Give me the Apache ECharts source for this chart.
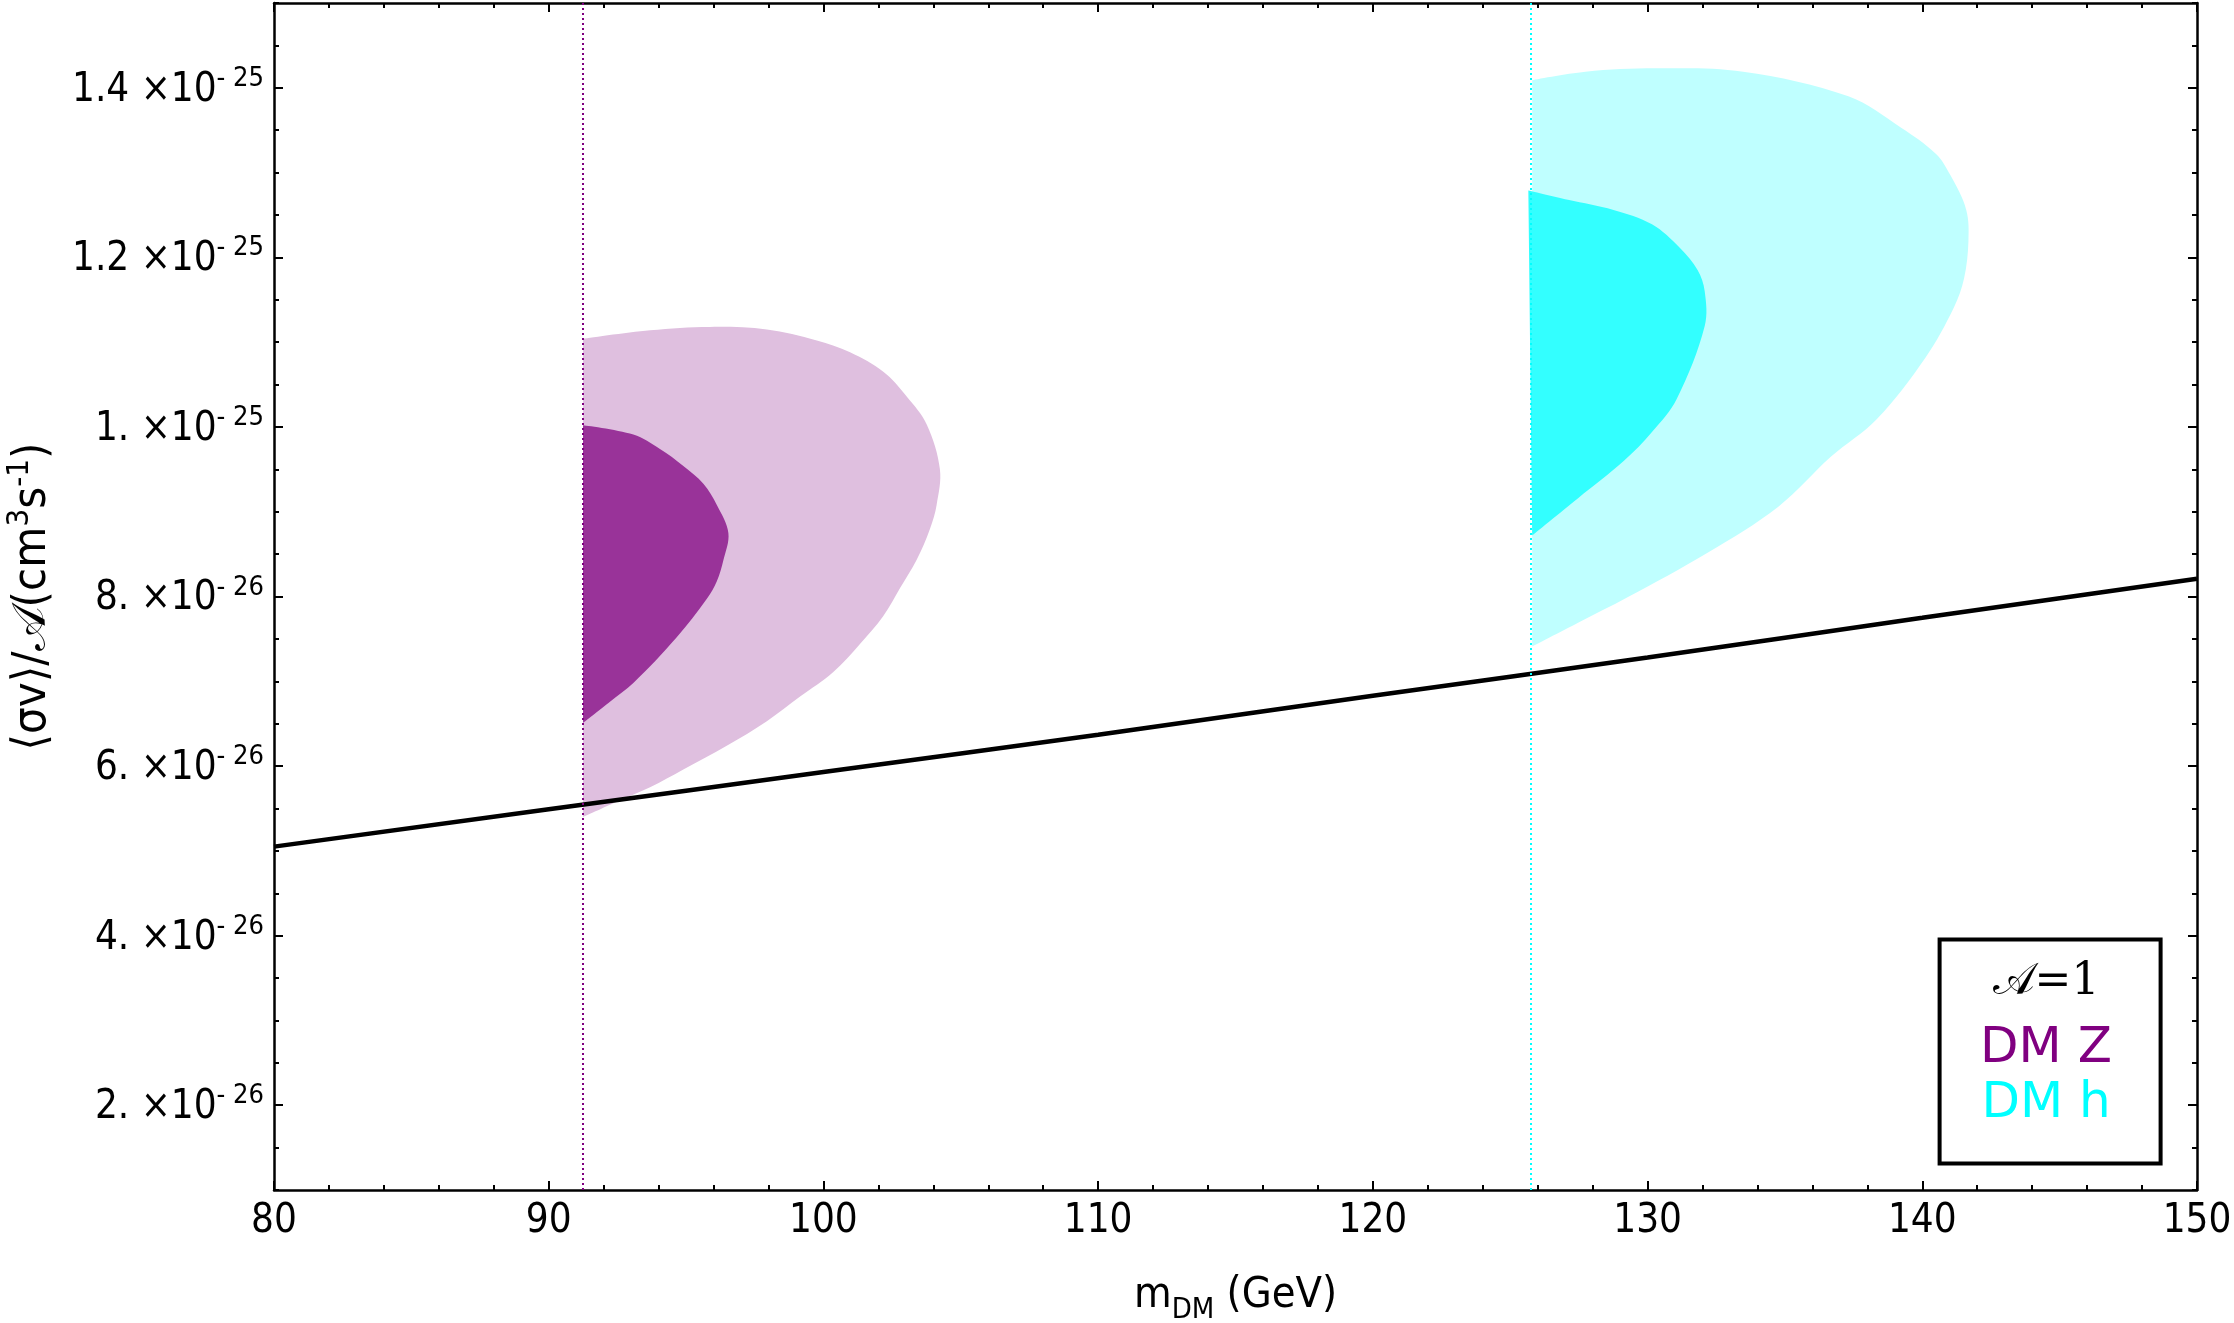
<!DOCTYPE html>
<html lang="en">
<head>
    <meta charset="UTF-8">
    <title>DM annihilation fit</title>
    <style>
        html, body { margin: 0; padding: 0; background: #fff; }
        #box { width: 2234px; height: 1323px; }
    </style>
</head>
<body>
    <div id="box"></div>
    <script src="https://cdn.jsdelivr.net/npm/echarts@6/dist/echarts.min.js"></script>
    <script>
        // y values are in units of 1e-26 cm^3 s^-1
        var yMajorTicks = [2, 4, 6, 8, 10, 12, 14];
        var yTickMantissa = ['2.', '4.', '6.', '8.', '1.', '1.2', '1.4'];
        var yTickExponent = ['26', '26', '26', '26', '25', '25', '25'];

        // vertical mass lines (GeV)
        var massZ = 91.25;
        var massH = 125.75;

        // thermal relic line
        var relicX = [80, 90, 100, 110, 120, 130, 140, 150];
        var relicY = [5.05, 5.49, 5.93, 6.37, 6.83, 7.28, 7.75, 8.21];

        // DM Z contours [mDM, sigmav]
        var dmZOuter = [[91.25, 11.04], [93.69, 11.14], [95.87, 11.18], [97.94, 11.15], [99.76, 11.02],
            [100.97, 10.88], [102.18, 10.65], [103.03, 10.36], [103.76, 10.03], [104.24, 9.50],
            [104.12, 9.08], [103.88, 8.80], [103.39, 8.43], [102.79, 8.10], [102.18, 7.77],
            [101.33, 7.44], [100.36, 7.11], [99.15, 6.82], [97.94, 6.53], [96.48, 6.24],
            [94.9, 5.96], [93.69, 5.75], [92.48, 5.58], [91.25, 5.40]];
        var dmZInner = [[91.25, 10.02], [93.08, 9.91], [94.05, 9.74], [94.9, 9.54], [95.63, 9.33],
            [96.12, 9.08], [96.54, 8.75], [96.36, 8.43], [96.12, 8.18], [95.75, 7.97],
            [94.66, 7.52], [93.08, 6.98], [92.23, 6.76], [91.25, 6.51]];

        // DM h contours
        var dmHOuter = [[125.8, 14.09], [127.74, 14.19], [130.29, 14.23], [133.48, 14.19], [137.31, 13.90],
            [139.23, 13.53], [140.5, 13.22], [141.02, 12.97], [141.6, 12.56], [141.68, 12.19],
            [141.52, 11.75], [141.15, 11.41], [140.12, 10.82], [138.34, 10.09], [136.68, 9.65],
            [134.76, 9.06], [132.2, 8.52], [129.27, 7.99], [127.47, 7.69], [125.8, 7.41]];
        var dmHInner = [[125.66, 12.79], [127.1, 12.68], [128.76, 12.56], [130.16, 12.39], [131.18, 12.11],
            [131.82, 11.85], [132.08, 11.60], [132.08, 11.19], [131.06, 10.33], [130.16, 9.94],
            [129.14, 9.60], [127.47, 9.16], [125.8, 8.72]];

        var fontCond = "'DejaVu Sans Condensed', 'DejaVu Sans', sans-serif";
        var axisColor = '#000';

        var myChart = echarts.init(document.getElementById('box'), null, { renderer: 'canvas' });

        // filled region: smooth curve through the contour points, closed by the straight mass edge
        function region(name, pts, color) {
            return {
                name: name,
                type: 'custom',
                xAxisIndex: 0,
                yAxisIndex: 0,
                data: pts,
                encode: { x: 0, y: 1 },
                silent: true,
                renderItem: function (params, api) {
                    if (params.dataIndex !== 0) return null;
                    return {
                        type: 'polyline',
                        shape: { points: pts.map(function (p) { return api.coord(p); }), smooth: 0.35 },
                        style: { fill: color, stroke: null }
                    };
                }
            };
        }

        function yLabel(value) {
            var i = yMajorTicks.indexOf(Math.round(value));
            if (i < 0) return '';
            return '{m|' + yTickMantissa[i] + ' \u00d710}{s|- ' + yTickExponent[i] + '}';
        }

        var baseX = {
            type: 'value', min: 80, max: 150, interval: 10,
            axisLine: { show: true, onZero: false, lineStyle: { color: axisColor, width: 2.5 } },
            axisTick: { show: true, inside: true, length: 9, lineStyle: { color: axisColor, width: 2 } },
            minorTick: { show: true, splitNumber: 5, length: 5, lineStyle: { color: axisColor, width: 2 } },
            splitLine: { show: false }
        };

        function yAx(position, major, labels) {
            var ax = {
                type: 'value', position: position, min: 1, max: 15,
                axisLine: { show: major, onZero: false, lineStyle: { color: axisColor, width: 2.5 } },
                axisTick: { show: true, inside: true, length: major ? 9 : 5, lineStyle: { color: axisColor, width: 2 } },
                axisLabel: { show: false },
                splitLine: { show: false }
            };
            if (major) {
                ax.axisTick.customValues = yMajorTicks;
            } else {
                ax.interval = 0.5;
            }
            if (labels) {
                ax.axisLabel = {
                    show: true,
                    customValues: yMajorTicks,
                    margin: 10,
                    formatter: yLabel,
                    rich: {
                        m: { fontFamily: fontCond, fontSize: 40, color: '#000', verticalAlign: 'bottom' },
                        s: { fontFamily: fontCond, fontSize: 27, color: '#000', verticalAlign: 'bottom', padding: [0, 0, 18, 0] }
                    }
                };
                ax.name = '{n|\u27e8\u03c3v\u27e9/\ud835\udc9c(cm}{s|3}{n|s}{s|-1}{n|)}';
                ax.nameLocation = 'middle';
                ax.nameGap = 218;
                ax.nameTextStyle = {
                    rich: {
                        n: { fontFamily: fontCond, fontSize: 47, color: '#000', verticalAlign: 'bottom' },
                        s: { fontFamily: fontCond, fontSize: 31, color: '#000', verticalAlign: 'bottom', padding: [0, 0, 21, 0] }
                    }
                };
            }
            return ax;
        }

        var option = {
            animation: false,
            backgroundColor: '#fff',
            grid: { left: 274, right: 37, top: 3, bottom: 133, outerBoundsMode: 'none' },
            xAxis: [
                Object.assign({}, baseX, {
                    position: 'bottom',
                    axisLabel: { margin: 12, fontFamily: fontCond, fontSize: 40, color: '#000' },
                    name: '{n|m}{sub|DM}{n| (GeV)}',
                    nameLocation: 'middle',
                    nameGap: 84,
                    nameTextStyle: {
                        rich: {
                            n: { fontFamily: fontCond, fontSize: 43, color: '#000', verticalAlign: 'bottom', padding: [0, 0, 8, 0] },
                            sub: { fontFamily: fontCond, fontSize: 29, color: '#000', verticalAlign: 'bottom' }
                        }
                    }
                }),
                Object.assign({}, baseX, { position: 'top', axisLabel: { show: false } })
            ],
            yAxis: [
                yAx('left', true, true),
                yAx('left', false, false),
                yAx('right', true, false),
                yAx('right', false, false)
            ],
            series: [
                region('DM Z outer', dmZOuter, '#dfbfdf'),
                region('DM Z inner', dmZInner, '#993399'),
                region('DM h outer', dmHOuter, '#bfffff'),
                region('DM h inner', dmHInner, '#33ffff'),
                {
                    name: 'relic',
                    type: 'line',
                    xAxisIndex: 0,
                    yAxisIndex: 0,
                    data: relicX.map(function (x, i) { return [x, relicY[i]]; }),
                    smooth: true,
                    showSymbol: false,
                    lineStyle: { color: '#000', width: 4.5 },
                    silent: true,
                    markLine: {
                        silent: true,
                        symbol: 'none',
                        label: { show: false },
                        data: [
                            { xAxis: massZ, lineStyle: { color: '#800080', width: 2, type: [2, 3] } },
                            { xAxis: massH, lineStyle: { color: '#00ffff', width: 2, type: [2, 3] } }
                        ]
                    }
                }
            ],
            graphic: [
                {
                    type: 'rect',
                    shape: { x: 1939.6, y: 939.5, width: 221, height: 224 },
                    style: { fill: '#fff', stroke: '#000', lineWidth: 4 },
                    z: 100
                },
                {
                    type: 'text', x: 2046, y: 983, z: 101,
                    style: { text: '\ud835\udc9c=1', fontFamily: "'DejaVu Serif', serif", fontSize: 44, fill: '#000', align: 'center', verticalAlign: 'middle' }
                },
                {
                    type: 'text', x: 2046, y: 1049, z: 101,
                    style: { text: 'DM Z', fontFamily: "'DejaVu Sans', sans-serif", fontSize: 50, fill: '#800080', align: 'center', verticalAlign: 'middle' }
                },
                {
                    type: 'text', x: 2046, y: 1104, z: 101,
                    style: { text: 'DM h', fontFamily: "'DejaVu Sans', sans-serif", fontSize: 50, fill: '#00ffff', align: 'center', verticalAlign: 'middle' }
                }
            ]
        };

        myChart.setOption(option);

        window.addEventListener('resize', function () {
            myChart.resize();
        });
    </script>
</body>
</html>
